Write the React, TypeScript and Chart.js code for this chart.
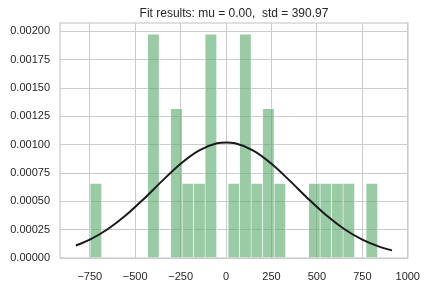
import React, { useEffect, useRef } from "react";
import { Chart, registerables } from "chart.js";
Chart.register(...registerables);

const titleText = "Fit results: mu = 0.00,  std = 390.97";
const binStart = -748;
const binWidth = 63.28;
const binCounts = [1, 0, 0, 0, 0, 3, 0, 2, 1, 1, 3, 0, 1, 3, 1, 2, 1, 0, 0, 1, 1, 1, 1, 0, 1];
const curveX = [-827, -750, -650, -550, -450, -350, -250, -150, -50, 0, 50, 150, 250, 350, 450, 550, 650, 750, 850, 913];
const curveY = [0.000109, 0.000162, 0.000256, 0.000379, 0.000526, 0.000683, 0.000832, 0.000948, 0.001012, 0.00102, 0.001012, 0.000948, 0.000832, 0.000683, 0.000526, 0.000379, 0.000256, 0.000162, 0.000096, 0.0000667];
const xTicks = [-750, -500, -250, 0, 250, 500, 750, 1000];
const yTicks = [0, 0.00025, 0.0005, 0.00075, 0.001, 0.00125, 0.0015, 0.00175, 0.002];

const FONT = "'Liberation Sans', Arial, sans-serif";
const TEXT = "#262626";
const GRID = "#cccccc";

export default function App() {
  const ref = useRef<HTMLCanvasElement | null>(null);
  useEffect(() => {
    if (!ref.current) return;
    const total = binCounts.reduce((a, b) => a + b, 0);
    const barData = binCounts
      .map((c, k) => ({ x: binStart + (k + 0.5) * binWidth, y: c / (total * binWidth) }))
      .filter((d) => d.y > 0);
    const lineData = curveX.map((x, i) => ({ x, y: curveY[i] }));

    const framePlugin = {
      id: "frame",
      afterDatasetsDraw(chart: any) {
        const { ctx, chartArea: a } = chart;
        ctx.save();
        ctx.strokeStyle = GRID;
        ctx.lineWidth = 1.25;
        ctx.strokeRect(a.left, a.top, a.right - a.left, a.bottom - a.top);
        ctx.restore();
      },
      afterDraw(chart: any) {
        const { ctx, chartArea: a } = chart;
        ctx.save();
        ctx.fillStyle = TEXT;
        ctx.font = `12px ${FONT}`;
        ctx.textAlign = "center";
        ctx.textBaseline = "alphabetic";
        ctx.fillText(titleText, (a.left + a.right) / 2, 17);
        ctx.restore();
      },
    };

    const chart = new Chart(ref.current, {
      type: "bar",
      data: {
        datasets: [
          {
            type: "line",
            data: lineData,
            borderColor: "#1a1a1a",
            borderWidth: 2,
            pointRadius: 0,
            cubicInterpolationMode: "monotone",
            fill: false,
          } as any,
          {
            type: "bar",
            data: barData,
            backgroundColor: "rgba(85,168,104,0.6)",
            borderColor: "rgba(255,255,255,0.9)",
            borderWidth: 0.6,
            barPercentage: 1,
            categoryPercentage: 1,
          } as any,
        ],
      },
      options: {
        animation: false,
        responsive: false,
        devicePixelRatio: 1,
        layout: { padding: { left: 0, top: 23, right: 19, bottom: 0 } },
        plugins: { legend: { display: false }, tooltip: { enabled: false }, title: { display: false } },
        scales: {
          x: {
            type: "linear",
            min: -914,
            max: 1001,
            offset: false,
            grid: { color: GRID, lineWidth: 1, drawTicks: false, offset: false },
            border: { display: false },
            afterBuildTicks: (s: any) => {
              s.ticks = xTicks.map((v) => ({ value: v }));
            },
            afterFit: (s: any) => {
              s.height = 30;
            },
            ticks: {
              autoSkip: false,
              maxRotation: 0,
              padding: 12,
              color: TEXT,
              font: { family: FONT, size: 11 },
              callback: (v: any) => String(v).replace("-", "\u2212"),
            },
          },
          y: {
            type: "linear",
            min: 0,
            max: 0.002074,
            grid: { color: GRID, lineWidth: 1, drawTicks: false },
            border: { display: false },
            afterBuildTicks: (s: any) => {
              s.ticks = yTicks.map((v) => ({ value: v }));
            },
            afterFit: (s: any) => {
              s.width = 60;
            },
            ticks: {
              padding: 10,
              color: TEXT,
              font: { family: FONT, size: 11 },
              callback: (v: any) => Number(v).toFixed(5),
            },
          },
        },
      } as any,
      plugins: [framePlugin],
    });
    return () => chart.destroy();
  }, []);

  return (
    <div style={{ position: "absolute", left: 0, top: 0, width: 432, height: 288, background: "#fff" }}>
      <canvas ref={ref} width={432} height={288} style={{ width: 432, height: 288, display: "block" }} />
    </div>
  );
}
